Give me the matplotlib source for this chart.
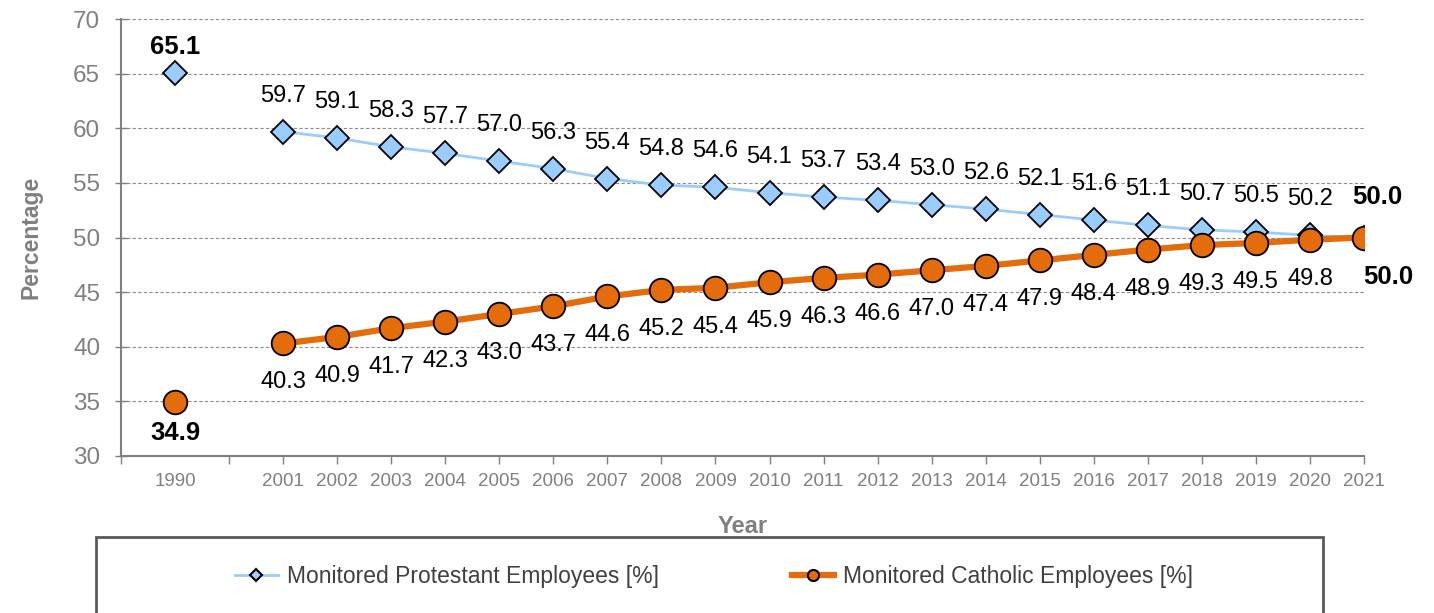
import matplotlib
matplotlib.use("Agg")
from matplotlib import pyplot as plt
from matplotlib.lines import Line2D
from matplotlib.patches import Rectangle
import numpy as np

plt.rcParams["font.family"] = ["Liberation Sans", "DejaVu Sans"]

# category axis: 1990, an empty slot, then 2001..2021
categories = ["1990", "", "2001", "2002", "2003", "2004", "2005", "2006", "2007",
              "2008", "2009", "2010", "2011", "2012", "2013", "2014", "2015",
              "2016", "2017", "2018", "2019", "2020", "2021"]
years = ["1990", "2001", "2002", "2003", "2004", "2005", "2006", "2007", "2008",
         "2009", "2010", "2011", "2012", "2013", "2014", "2015", "2016", "2017",
         "2018", "2019", "2020", "2021"]
protestant = [65.1, 59.7, 59.1, 58.3, 57.7, 57.0, 56.3, 55.4, 54.8, 54.6, 54.1,
              53.7, 53.4, 53.0, 52.6, 52.1, 51.6, 51.1, 50.7, 50.5, 50.2, 50.0]
catholic = [34.9, 40.3, 40.9, 41.7, 42.3, 43.0, 43.7, 44.6, 45.2, 45.4, 45.9,
            46.3, 46.6, 47.0, 47.4, 47.9, 48.4, 48.9, 49.3, 49.5, 49.8, 50.0]

BLUE = "#99CCFF"
ORANGE = "#E46C0A"
GRAY = "#808080"

x = np.array([categories.index(y) for y in years])
prot = np.array(protestant)
cath = np.array(catholic)

fig = plt.figure(figsize=(14.34, 6.13), dpi=100)
ax = fig.add_axes([121 / 1434, 1 - 456 / 613, 1243 / 1434, 437 / 613])

# lines only across the continuous yearly series
ax.plot(x[1:], prot[1:], color=BLUE, lw=2, zorder=3)
ax.plot(x, prot, ls="none", marker="D", ms=12.5, mfc=BLUE, mec="black", mew=1.3, zorder=4)
ax.plot(x[1:], cath[1:], color=ORANGE, lw=4.5, zorder=5)
ax.plot(x, cath, ls="none", marker="o", ms=17, mfc=ORANGE, mec="black", mew=1.3, zorder=6)

last = len(x) - 1
for i, (xi, p, c) in enumerate(zip(x, prot, cath)):
    if i == 0:
        ax.annotate(f"{p:.1f}", (xi, p), xytext=(0, 26), textcoords="offset pixels",
                    ha="center", va="center", fontsize=18.5, fontweight="bold")
        ax.annotate(f"{c:.1f}", (xi, c), xytext=(0, -31), textcoords="offset pixels",
                    ha="center", va="center", fontsize=18.5, fontweight="bold")
    elif i == last:
        ax.annotate(f"{p:.1f}", (xi, p), xytext=(13, 40), textcoords="offset pixels",
                    ha="center", va="center", fontsize=18.5, fontweight="bold",
                    annotation_clip=False)
        ax.annotate(f"{c:.1f}", (xi, c), xytext=(24, -40), textcoords="offset pixels",
                    ha="center", va="center", fontsize=18.5, fontweight="bold",
                    annotation_clip=False)
    else:
        ax.annotate(f"{p:.1f}", (xi, p), xytext=(0, 36), textcoords="offset pixels",
                    ha="center", va="center", fontsize=17)
        ax.annotate(f"{c:.1f}", (xi, c), xytext=(0, -39), textcoords="offset pixels",
                    ha="center", va="center", fontsize=17)

ax.set_xlim(-1, len(categories) - 1)
ax.set_ylim(30, 70)
ax.set_yticks(np.arange(30, 71, 5))
ax.tick_params(axis="y", direction="inout", length=8, width=1, color=GRAY,
               labelsize=17.5, labelcolor=GRAY, pad=11)

# tick marks between slots; 1990 label sits on an unticked slot
tick_pos = [-1] + list(range(1, len(categories)))
ax.set_xticks(tick_pos)
ax.set_xticklabels([categories[i] if i >= 0 else "" for i in tick_pos])
ax.set_xticks([0], minor=True)
ax.set_xticklabels([categories[0]], minor=True)
ax.tick_params(axis="x", which="major", direction="out", length=6, width=1, color=GRAY,
               labelsize=13.5, labelcolor=GRAY, pad=6)
ax.tick_params(axis="x", which="minor", length=0, labelsize=13.5, labelcolor=GRAY, pad=12)

for y in range(35, 71, 5):
    ax.axhline(y, color="#8C8C8C", lw=0.8, ls=(0, (3, 2)), zorder=1)

for s in ["top", "right"]:
    ax.spines[s].set_visible(False)
for s in ["left", "bottom"]:
    ax.spines[s].set_color(GRAY)
    ax.spines[s].set_linewidth(1.5)

ax.set_ylabel("Percentage", fontsize=16.5, fontweight="bold", color=GRAY, labelpad=22)
ax.set_xlabel("Year", fontsize=17, fontweight="bold", color=GRAY, labelpad=18)

# legend box running off the bottom edge
fig.patches.append(Rectangle((96 / 1434, -0.2), 1227 / 1434, 0.2 + 1 - 537 / 613,
                             transform=fig.transFigure, facecolor="white",
                             edgecolor="#595959", lw=2, zorder=10))
handles = [
    Line2D([], [], color=BLUE, lw=2, marker="D", ms=6, mfc=BLUE, mec="black", mew=1.5),
    Line2D([], [], color=ORANGE, lw=4.5, marker="o", ms=8, mfc=ORANGE, mec="black", mew=1.5),
]
leg = fig.legend(handles, ["Monitored Protestant Employees [%]", "Monitored Catholic Employees [%]"],
                 loc="center", bbox_to_anchor=(0.498, 1 - 577 / 613), ncol=2, frameon=False,
                 fontsize=16.5, handlelength=1.85, handletextpad=0.4, columnspacing=5.8)
leg.set_zorder(11)
for t in leg.get_texts():
    t.set_color("#404040")

fig.savefig("out.png", dpi=100)
